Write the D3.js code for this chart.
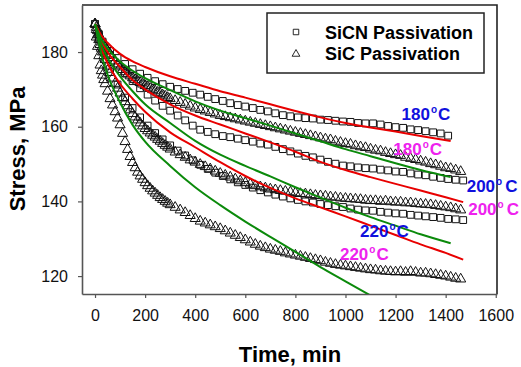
<!DOCTYPE html>
<html>
<head>
<meta charset="utf-8">
<script src="https://cdn.jsdelivr.net/npm/d3@7/dist/d3.min.js"></script>
<style>
  body { margin: 0; background: #fff; }
  text { font-family: Arial, "Liberation Sans", sans-serif; }
</style>
</head>
<body>
<div id="chart"></div>
<script>
// ---- data ----
var xTicks = [0, 200, 400, 600, 800, 1000, 1200, 1400, 1600];
var yTicks = [120, 140, 160, 180];

// SiCN passivation (squares), time in min, stress in MPa
var sicnTimes180 = [0, 15, 30, 60, 90, 120, 150, 180, 210, 240, 270, 300, 330, 360, 390, 420, 450, 480, 510, 540,
  570, 600, 630, 660, 690, 720, 750, 780, 810, 840, 870, 900, 930, 960, 990, 1020, 1050, 1080, 1110, 1140,
  1170, 1200, 1230, 1260, 1290, 1320, 1350, 1380, 1410];
var sicn180 = [187.5, 184.8, 182.8, 180.3, 178.4, 176.8, 175.4, 174.2, 173.1, 172.2, 171.4, 170.7, 170.1, 169.6, 169.1, 168.6, 168.0, 167.4, 166.9, 166.3,
  165.8, 165.4, 165.0, 164.5, 164.1, 163.6, 163.1, 162.8, 162.5, 162.3, 162.2, 161.9, 161.8, 161.6, 161.4, 161.3, 161.0, 160.9, 160.9, 160.6,
  160.2, 159.9, 159.7, 159.3, 159.1, 158.8, 158.5, 158.2, 157.6];

var sicnTimes = [0, 15, 30, 60, 90, 120, 150, 180, 210, 240, 270, 300, 330, 360, 390, 420, 450, 480, 510, 540,
  570, 600, 630, 660, 690, 720, 750, 780, 810, 840, 870, 900, 930, 960, 990, 1020, 1050, 1080, 1110, 1140,
  1170, 1200, 1230, 1260, 1290, 1320, 1350, 1380, 1410, 1440, 1470];
var sicn200 = [187.5, 184.7, 182.5, 179.2, 176.6, 174.3, 172.2, 170.3, 168.6, 167.0, 165.6, 164.3, 163.0, 161.7, 160.3, 159.2, 158.6, 158.0, 157.5, 157.2,
  156.8, 156.4, 156.0, 155.5, 155.2, 154.6, 154.0, 153.4, 152.8, 152.2, 151.8, 151.2, 150.6, 150.1, 149.6, 149.4, 149.1, 148.9, 148.8, 148.5,
  148.3, 148.0, 147.9, 147.5, 147.2, 147.0, 146.6, 146.3, 146.0, 145.8, 145.6];
var sicn220 = [187.5, 183.5, 180.2, 175.5, 171.3, 167.8, 165.0, 162.5, 160.3, 158.3, 156.6, 155.0, 153.6, 152.3, 151.0, 149.8, 148.7, 147.7, 146.8, 145.9,
  145.1, 144.4, 143.7, 143.0, 142.4, 141.8, 141.3, 140.8, 140.4, 140.0, 139.7, 139.3, 139.0, 138.7, 138.5, 138.1, 137.8, 137.6, 137.5, 137.2,
  137.0, 136.8, 136.7, 136.4, 136.2, 136.0, 135.8, 135.6, 135.3, 135.2, 135.0];

// SiC passivation (triangles)
var sicTimes = [0, 5, 10, 15, 20, 25, 30, 35, 40, 50, 60, 70, 80, 90, 100, 110, 120, 130, 140, 150,
  160, 170, 180, 190, 200, 210, 220, 230, 240, 250, 260, 270, 280, 290, 300,
  320, 340, 360, 380, 400, 420, 440, 460, 480, 500, 520, 540, 560, 580, 600, 620, 640, 660, 680, 700,
  720, 740, 760, 780, 800, 820, 840, 860, 880, 900, 920, 940, 960, 980, 1000, 1020, 1040, 1060, 1080, 1100,
  1120, 1140, 1160, 1180, 1200, 1220, 1240, 1260, 1280, 1300, 1320, 1340, 1360, 1380, 1400, 1420, 1440, 1460];
var sic180 = [187.5, 186.6, 185.7, 184.8, 184.0, 183.3, 182.6, 182.0, 181.4, 180.4, 179.5, 178.5, 177.6, 176.8, 176.0, 175.3, 174.7, 174.1, 173.6, 173.1,
  172.6, 172.2, 171.8, 171.4, 171.0, 170.6, 170.3, 169.9, 169.6, 169.2, 168.9, 168.5, 168.2, 167.8, 167.5,
  167.0, 166.5, 166.0, 165.5, 165.0, 164.6, 164.2, 163.8, 163.4, 163.0, 162.7, 162.4, 162.1, 161.8, 161.5, 161.2, 160.9, 160.6, 160.3, 160.0,
  159.7, 159.4, 159.1, 158.8, 158.5, 158.2, 157.9, 157.6, 157.3, 157.0, 156.7, 156.5, 156.1, 155.8, 155.5, 155.3, 154.9, 154.6, 154.4, 154.0,
  153.7, 153.5, 153.1, 152.8, 152.5, 152.3, 151.8, 151.5, 151.2, 150.8, 150.5, 150.1, 149.8, 149.4, 149.0, 148.8, 148.4, 148.0];
var sic200 = [187.5, 186.0, 184.6, 183.3, 182.0, 181.0, 180.0, 179.0, 178.0, 176.2, 174.5, 173.0, 171.6, 170.3, 169.0, 167.8, 166.7, 165.6, 164.5, 163.5,
  162.6, 161.8, 161.0, 160.2, 159.5, 158.9, 158.3, 157.7, 157.2, 156.6, 156.1, 155.5, 155.0, 154.5, 154.0,
  153.2, 152.5, 151.8, 151.1, 150.5, 149.9, 149.3, 148.7, 148.1, 147.5, 147.0, 146.5, 146.0, 145.5, 145.0, 144.6, 144.2, 143.9, 143.6, 143.3,
  143.1, 142.9, 142.7, 142.5, 142.3, 142.1, 142.0, 141.8, 141.6, 141.5, 141.4, 141.2, 141.1, 140.9, 140.8, 140.7, 140.6, 140.5, 140.3, 140.2,
  140.2, 140.0, 140.1, 139.9, 139.8, 139.8, 139.6, 139.6, 139.4, 139.3, 139.2, 139.1, 138.9, 138.7, 138.5, 138.3, 138.0, 137.7];
var sic220 = [187.5, 184.0, 181.5, 179.0, 176.5, 175.0, 173.8, 172.6, 171.5, 169.5, 167.5, 165.8, 164.0, 162.3, 160.5, 158.2, 156.0, 153.9, 152.0, 150.4,
  149.0, 147.8, 146.8, 145.9, 145.0, 144.2, 143.5, 142.8, 142.2, 141.6, 141.0, 140.5, 140.0, 139.5, 139.1,
  138.4, 137.7, 137.0, 136.2, 135.4, 134.7, 134.2, 133.7, 133.2, 132.7, 132.1, 131.5, 130.9, 130.3, 129.7, 129.1, 128.5, 128.0, 127.6, 127.2,
  126.9, 126.6, 126.2, 125.9, 125.6, 125.3, 125.0, 124.7, 124.4, 124.1, 123.7, 123.4, 123.1, 122.9, 122.7, 122.5, 122.3, 122.1, 121.9, 121.7,
  121.6, 121.4, 121.3, 121.2, 121.1, 121.2, 121.0, 121.2, 121.0, 120.8, 120.8, 120.6, 120.4, 120.2, 120.0, 119.7, 119.4, 119.2];

// model curves
var fitTimesA = [0, 25, 50, 100, 150, 200, 300, 400, 500, 600, 700, 800, 900, 1000, 1100, 1200, 1300, 1420];
var fitTimesB = [0, 25, 50, 100, 150, 200, 300, 400, 500, 600, 700, 800, 900, 1000, 1100, 1200, 1300, 1400, 1470];
var fitTimesC = [0, 25, 50, 100, 150, 200, 300, 400, 500, 600, 700, 800, 900, 1000, 1100];
var fitRed180 = [187.5, 184.5, 182.5, 179.5, 177.5, 176.0, 173.5, 171.5, 169.5, 167.8, 166.0, 164.2, 162.5, 161.0, 159.8, 158.7, 157.5, 156.2];
var fitGreen180 = [187.5, 183.5, 181.0, 177.5, 175.0, 173.0, 169.8, 166.8, 164.3, 162.3, 160.3, 158.2, 156.1, 154.0, 152.1, 150.2, 148.4, 146.5];
var fitGreen200 = [187.5, 182.0, 178.5, 173.5, 169.5, 166.0, 161.0, 156.2, 152.5, 149.5, 146.7, 143.8, 141.0, 138.3, 135.8, 133.5, 131.2, 128.8];
var fitRed200 = [187.5, 183.0, 180.0, 176.0, 172.5, 170.0, 166.0, 163.0, 160.6, 158.2, 155.8, 153.3, 150.6, 148.4, 146.5, 144.7, 142.9, 141.1, 139.8];
var fitRed220 = [187.5, 181.0, 177.0, 171.5, 167.5, 164.0, 158.5, 154.5, 150.5, 146.8, 143.6, 140.8, 138.4, 136.0, 133.5, 131.0, 128.5, 126.2, 124.4];
var fitGreen220 = [187.5, 179.5, 174.0, 166.5, 160.5, 156.0, 149.5, 143.8, 139.0, 134.6, 130.5, 126.5, 122.4, 118.6, 114.8];

// temperature labels, anchored in data units
var labelTemps = ["180", "180", "200", "200", "220", "220"];
var labelTimes = [1224, 1191, 1484, 1490, 1058, 978];
var labelStress = [161.8, 152.4, 142.6, 136.3, 130.5, 124.3];
var legendNames = ["SiCN Passivation", "SiC Passivation"];

// ---- drawing ----
var width = 521, height = 367;
var margin = { top: 5, right: 24, bottom: 73, left: 82 };

var x = d3.scaleLinear().domain([-52, 1605]).range([margin.left, width - margin.right]);
var y = d3.scaleLinear().domain([115.2, 192.6]).range([height - margin.bottom, margin.top]);

var svg = d3.select("#chart").append("svg")
  .attr("width", width)
  .attr("height", height);

svg.append("clipPath").attr("id", "clip")
  .append("rect")
  .attr("x", x.range()[0]).attr("y", y.range()[1])
  .attr("width", x.range()[1] - x.range()[0])
  .attr("height", y.range()[0] - y.range()[1]);

// top and right frame
svg.append("path")
  .attr("d", "M" + x.range()[0] + "," + y.range()[1] + "H" + x.range()[1] + "V" + y.range()[0])
  .attr("fill", "none")
  .attr("stroke", "#222")
  .attr("stroke-width", 1.6);

var xAxis = d3.axisBottom(x).tickValues(xTicks).tickFormat(d3.format("d"))
  .tickSize(4).tickPadding(12).tickSizeOuter(0);
var yAxis = d3.axisLeft(y).tickValues(yTicks).tickFormat(d3.format("d"))
  .tickSize(4).tickPadding(10).tickSizeOuter(0);

var gx = svg.append("g")
  .attr("transform", "translate(0," + y.range()[0] + ")")
  .call(xAxis);
var gy = svg.append("g")
  .attr("transform", "translate(" + x.range()[0] + ",0)")
  .call(yAxis);

[gx, gy].forEach(function(g) {
  g.select(".domain").attr("stroke", "#555").attr("stroke-width", 1.6);
  g.selectAll(".tick line").attr("stroke", "#555").attr("stroke-width", 1.2);
  g.selectAll(".tick text").attr("fill", "#111").style("font-size", "16px").style("font-family", "Arial, 'Liberation Sans', sans-serif");
});

// axis titles
svg.append("text")
  .attr("x", 290).attr("y", 362)
  .attr("text-anchor", "middle")
  .style("font-size", "22px").style("font-weight", "bold")
  .text("Time, min");
svg.append("text")
  .attr("transform", "translate(25,149) rotate(-90)")
  .attr("text-anchor", "middle")
  .style("font-size", "22px").style("font-weight", "bold")
  .text("Stress, MPa");

var plot = svg.append("g").attr("clip-path", "url(#clip)");

var square = d3.symbol().type(d3.symbolSquare).size(46);
var triangle = d3.symbol().type(d3.symbolTriangle).size(44);

function drawPoints(times, values, sym, fill, sw) {
  plot.append("g").selectAll("path")
    .data(times)
    .enter().append("path")
    .attr("d", sym)
    .attr("transform", function(d, i) { return "translate(" + x(d) + "," + y(values[i]) + ")"; })
    .attr("fill", fill)
    .attr("stroke", "#111")
    .attr("stroke-width", sw);
}

drawPoints(sicnTimes180, sicn180, square, "#fff", 1);
drawPoints(sicnTimes, sicn200, square, "#fff", 1);
drawPoints(sicnTimes, sicn220, square, "#fff", 1);
drawPoints(sicTimes, sic180, triangle, "none", 1);
drawPoints(sicTimes, sic200, triangle, "none", 1);
drawPoints(sicTimes, sic220, triangle, "none", 1);

function drawFit(times, values, color) {
  var line = d3.line()
    .x(function(d) { return x(d); })
    .y(function(d, i) { return y(values[i]); })
    .curve(d3.curveMonotoneX);
  plot.append("path")
    .attr("d", line(times))
    .attr("fill", "none")
    .attr("stroke", color)
    .attr("stroke-width", 2);
}

var red = "#e80000", green = "#0b8a0b";
drawFit(fitTimesA, fitRed180, red);
drawFit(fitTimesB, fitRed200, red);
drawFit(fitTimesB, fitRed220, red);
drawFit(fitTimesA, fitGreen180, green);
drawFit(fitTimesA, fitGreen200, green);
drawFit(fitTimesC, fitGreen220, green);

// temperature labels: blue = SiCN, magenta = SiC
var labelColors = ["#1010dd", "#ee22ee", "#1010dd", "#ee22ee", "#1010dd", "#ee22ee"];
labelTemps.forEach(function(t, i) {
  var lbl = svg.append("text")
    .attr("x", x(labelTimes[i]))
    .attr("y", y(labelStress[i]))
    .attr("fill", labelColors[i])
    .style("font-size", "17px").style("font-weight", "bold");
  lbl.append("tspan").text(t);
  lbl.append("tspan").attr("dx", 1).attr("dy", -7).style("font-size", "10px").text("o");
  lbl.append("tspan").attr("dx", t == "200" ? 3 : 1).attr("dy", 7).text("C");
});

// legend
var legend = svg.append("g");
legend.append("rect")
  .attr("x", 267).attr("y", 13)
  .attr("width", 217).attr("height", 60)
  .attr("fill", "#fff")
  .attr("stroke", "#222")
  .attr("stroke-width", 1.5);
var legendSyms = [d3.symbol().type(d3.symbolSquare).size(30), d3.symbol().type(d3.symbolTriangle).size(26)];
legendNames.forEach(function(name, i) {
  legend.append("path")
    .attr("d", legendSyms[i])
    .attr("transform", "translate(296," + (32 + i * 22) + ")")
    .attr("fill", "#fff")
    .attr("stroke", "#111")
    .attr("stroke-width", 0.9);
  legend.append("text")
    .attr("x", 325).attr("y", 38.5 + i * 21.5)
    .style("font-size", "18px").style("font-weight", "bold")
    .text(name);
});
</script>
</body>
</html>
